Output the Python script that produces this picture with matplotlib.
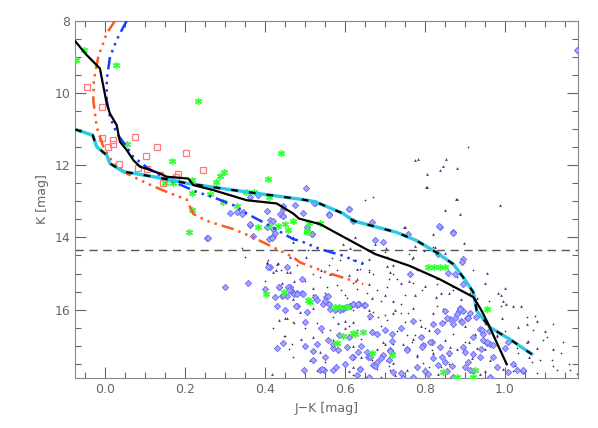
import numpy as np
import matplotlib
matplotlib.use('Agg')
import matplotlib.pyplot as plt
from matplotlib.ticker import MultipleLocator

# isochrones / sequences (J-K, K)
black_jk = [-0.0735, -0.045, -0.012, 0.005, 0.013, 0.03, 0.038, 0.055, 0.0715, 0.088, 0.113, 0.138, 0.155,
            0.209, 0.2215, 0.2715, 0.355, 0.43, 0.4715, 0.486, 0.538, 0.676, 0.763, 0.838, 0.9215, 0.9425,
            0.959, 0.98, 1.005]
black_k = [8.57, 8.95, 9.32, 10.29, 10.57, 10.89, 11.35, 11.58, 11.86, 12.04, 12.13, 12.23, 12.32,
           12.37, 12.55, 12.69, 12.97, 13.06, 13.34, 13.48, 13.63, 14.46, 14.79, 15.16, 15.65, 16.03,
           16.4, 16.91, 17.51]

cyan_jk = [-0.0735, -0.03, -0.02, 0.005, 0.013, 0.0465, 0.0965, 0.1465, 0.205, 0.3215, 0.488, 0.526,
           0.5965, 0.6215, 0.73, 0.78, 0.83, 0.8715, 0.90, 0.9215, 0.93, 0.963, 1.013, 1.0675]
cyan_k = [11.01, 11.17, 11.49, 11.72, 11.95, 12.18, 12.27, 12.37, 12.5, 12.69, 12.94, 13.01,
          13.34, 13.54, 13.86, 14.09, 14.42, 14.74, 15.16, 15.52, 16.03, 16.49, 16.82, 17.23]

blue_jk = [0.055, 0.03, 0.0133, 0.005, 0.005, 0.0133, 0.03, 0.055, 0.0715, 0.11, 0.16, 0.23, 0.27, 0.32,
           0.355, 0.405, 0.4715, 0.488, 0.538, 0.597, 0.6465]
blue_k = [8.0, 8.53, 9.0, 9.64, 10.2, 10.66, 11.12, 11.49, 11.77, 12.1, 12.4, 12.74, 12.88, 13.1,
          13.34, 13.63, 14.05, 14.09, 14.32, 14.51, 14.74]

orange_jk = [0.026, 0.005, -0.016, -0.027, -0.0285, -0.02, -0.0035, 0.0215, 0.055, 0.105, 0.155, 0.205,
             0.2215, 0.255, 0.3215, 0.3715, 0.43, 0.4715, 0.488, 0.555, 0.6465]
orange_k = [8.0, 8.35, 9.0, 9.64, 10.2, 10.94, 11.49, 11.95, 12.23, 12.5, 12.74, 12.95,
            13.35, 13.54, 13.77, 14.0, 14.32, 14.55, 14.69, 14.97, 15.29]

k_limit = 14.35

# open squares
sq_jk = [-0.044, -0.007, -0.007, 0.022, 0.022, 0.009, 0.0765, 0.1315, 0.103, 0.203, 0.035, 0.2465,
         0.084, 0.105, 0.138, 0.184, 0.178, 0.1465]
sq_k = [9.83, 10.38, 11.26, 11.31, 11.40, 11.49, 11.21, 11.49, 11.74, 11.66, 11.97, 12.12,
        12.09, 12.11, 12.27, 12.25, 12.34, 12.48]

# green asterisks
gr_jk = [-0.072, -0.052, 0.028, 0.234, 0.44, 0.057, 0.169, 0.298, 0.288, 0.2775, 0.218, 0.151, 0.1715,
         0.2175, 0.263, 0.2965, 0.33, 0.353, 0.374, 0.409, 0.4115, 0.2175, 0.2115, 0.384, 0.4115, 0.434,
         0.45, 0.459, 0.47, 0.403, 0.449, 0.5065, 0.5115, 0.538, 0.505, 0.808, 0.823, 0.838, 0.85,
         0.955, 0.513, 0.509, 0.576, 0.605, 0.626, 0.6465, 0.5965, 0.58, 0.6675, 0.7175, 0.8465,
         0.88, 0.926, 0.9215, 0.62, 0.585]
gr_k = [9.09, 8.81, 9.23, 10.22, 11.67, 11.4, 11.88, 12.19, 12.30, 12.46, 12.41, 12.49, 12.5,
        12.76, 12.8, 13.01, 13.13, 12.75, 12.75, 12.38, 12.88, 13.24, 13.86, 13.72, 13.68, 13.68,
        13.63, 13.8, 13.54, 15.57, 15.5, 13.84, 13.61, 13.6, 13.82, 14.83, 14.83, 14.83, 14.81,
        15.99, 15.78, 15.74, 15.92, 15.92, 16.66, 16.62, 16.73, 16.92, 17.21, 17.26, 17.72,
        17.86, 17.66, 17.86, 16.64, 15.93]

# diamonds
di_jk = [1.18, 0.503, 0.526, 0.611, 0.495, 0.561, 0.476, 0.313, 0.33, 0.384, 0.363, 0.405, 0.4465,
         0.363, 0.413, 0.42, 0.4465, 0.438, 0.345, 0.363, 0.405, 0.4115, 0.42, 0.4255, 0.445,
         0.5175, 0.523, 0.6115, 0.5615, 0.62, 0.6675, 0.676, 0.6965, 0.413, 0.455, 0.4925,
         0.255, 0.259, 0.30, 0.359, 0.3715, 0.3425, 0.40, 0.426, 0.409, 0.436, 0.444, 0.4565, 0.463,
         0.4715, 0.48, 0.48, 0.445, 0.4215, 0.4175, 0.4465, 0.4365, 0.4465, 0.459, 0.465, 0.473,
         0.4815, 0.4925, 0.526, 0.505, 0.5465, 0.553, 0.559, 0.563, 0.576, 0.588, 0.5965, 0.603,
         0.613, 0.6215, 0.63, 0.648, 0.6675, 0.68, 0.70, 0.7175, 0.50, 0.53, 0.559, 0.5825, 0.605,
         0.6215, 0.634, 0.655, 0.659, 0.6965, 0.713, 0.7175, 0.538, 0.549, 0.57, 0.578, 0.498,
         0.638, 0.6715, 0.7215, 0.478, 0.505, 0.5175, 0.838, 0.8715, 0.834, 0.895, 0.8925, 0.876,
         0.8965, 0.888, 0.8865, 0.8965, 0.88, 0.905, 0.863, 0.8715, 0.938, 0.9465, 0.955, 0.963,
         0.9215, 0.938, 0.98, 1.0215, 1.0465, 0.80, 0.809, 0.855, 0.8675, 0.9215, 0.4965, 0.551,
         0.561, 0.5925, 0.613, 0.6215, 0.6365, 0.5715, 0.663, 0.676, 0.713, 0.755, 0.7175, 0.5425,
         0.7465, 0.888, 0.913, 0.876, 0.8425, 0.909, 0.9425, 0.9465, 0.9565, 1.009, 0.755, 0.7965,
         0.8175, 0.838, 0.90, 0.909, 0.851, 0.834, 0.913, 1.009, 0.7715, 0.963, 1.0465, 0.759,
         0.8365, 0.87, 0.859, 0.763, 0.89, 0.52, 0.43, 0.53,
         0.634, 0.651, 0.663, 0.6175, 0.638, 0.7925, 0.813, 0.8425, 0.928, 0.855, 0.8925,
         0.585, 0.61, 0.57, 0.64, 0.69, 0.71, 0.68, 0.52, 0.55, 0.6, 0.63, 0.66, 0.74, 0.78,
         0.82, 0.86, 0.79, 0.83, 0.85, 0.82, 0.77, 0.74, 0.92, 0.94, 0.97, 1.0, 0.96, 0.9, 0.87,
         0.46, 0.43, 0.5, 0.45, 0.54, 0.9715, 0.8965, 1.03]
di_k = [8.81, 12.64, 13.06, 13.22, 13.32, 13.34, 13.1, 13.32, 13.29, 12.83, 12.89, 13.26, 13.2,
        13.66, 13.52, 13.54, 13.13, 13.34, 13.29, 13.63, 13.71, 14.03, 13.96, 13.89, 13.41,
        13.91, 13.04, 13.22, 13.38, 13.54, 13.57, 14.06, 14.12, 14.83, 14.81, 15.14,
        14.02, 14.02, 15.37, 15.27, 13.96, 13.35, 15.43, 15.66, 14.81, 15.38, 15.63, 15.63, 15.37,
        15.54, 15.54, 15.89, 16.93, 13.77, 14.02, 13.4, 15.38, 15.6, 15.38, 15.46, 15.57,
        15.57, 15.55, 15.65, 16.06, 15.83, 15.65, 15.63, 15.97, 16.01, 16.01, 15.97, 15.92,
        15.9, 15.85, 15.88, 15.88, 16.62, 16.66, 16.57, 16.66, 17.01, 16.94, 16.83, 17.12, 17.03,
        17.31, 17.17, 17.17, 17.31, 17.26, 17.12, 17.2, 17.66, 17.66, 17.68, 17.6, 17.68,
        17.63, 17.54, 17.72, 15.9, 13.72, 13.91, 13.71, 13.86, 14.46, 14.6, 14.69, 15.02,
        15.29, 15.94, 16.03, 16.03, 16.13, 16.22, 16.26, 16.4, 16.54, 16.68, 16.91, 16.96,
        17.23, 17.32, 17.6, 17.51, 17.7, 17.7, 17.79, 17.7, 17.56, 17.7, 15.57, 15.77,
        15.85, 15.94, 15.9, 15.85, 15.85, 17.05, 17.32, 17.56, 17.14, 17.09, 16.86, 17.65,
        17.88, 15.97, 16.1, 16.24, 16.38, 16.24, 16.57, 16.85, 16.89, 16.89, 17.12, 16.98,
        16.89, 17.03, 17.17, 17.45, 17.45, 17.54, 17.68, 17.72, 17.86, 17.86, 17.68, 13.91,
        13.69, 13.87, 14.98, 15.02, 16.3, 17.4, 17.05, 15.72,
        15.83, 15.88, 16.18, 17.31, 17.63, 17.03, 16.89, 17.31, 16.2, 16.24, 16.33,
        16.7, 16.75, 16.95, 17.0, 17.35, 17.38, 17.45, 17.15, 17.3, 17.5, 17.8, 17.85, 17.75, 17.6,
        17.35, 17.2, 16.75, 16.6, 16.05, 16.4, 16.3, 16.5, 16.75, 17.1, 17.3, 17.05, 16.6, 17.6, 17.85,
        15.45, 15.9, 16.35, 16.0, 16.5, 16.98, 17.03, 17.68]

# small triangles
tr_jk = [0.776, 0.782, 0.853, 0.845, 0.838, 0.881, 0.805, 0.805, 0.879, 0.8515, 0.988, 0.803, 0.88,
         0.888, 0.748, 0.8215, 0.898, 0.776, 0.851, 0.955, 0.403, 0.47, 0.4715, 0.595, 0.613,
         0.676, 0.703, 0.405, 0.434, 0.429, 0.463, 0.503, 0.54, 0.563, 0.63, 0.705, 0.626, 0.6425,
         0.63, 0.4925, 0.4425, 0.4365, 0.455, 0.488, 0.584, 0.6215, 0.6675, 0.70, 0.7265, 0.6965,
         0.705, 0.7215, 0.726, 0.513, 0.538, 0.6215, 0.4175, 0.405, 0.43, 0.4215, 0.455, 0.463,
         0.45, 0.473, 0.8615, 0.984, 0.99, 1.003, 0.9965, 0.93, 0.9925, 1.034, 1.055, 1.055,
         0.926, 0.828, 0.776, 0.8215, 0.8115, 0.795, 0.7715, 0.7465, 0.863, 0.93, 0.9175, 0.963,
         0.9965, 1.026, 1.08, 0.8215, 0.755, 0.834, 0.938, 0.75, 0.826, 0.7715, 1.0215, 1.059,
         0.83, 0.705, 0.713, 0.56, 0.62, 0.66, 0.74, 0.87, 0.91, 0.68, 0.6, 0.52, 0.79, 0.86,
         0.65, 0.72, 0.95, 0.9,
         0.47, 0.52, 0.61, 0.66, 0.72, 0.76, 0.8, 0.84, 0.89, 0.95, 1.0, 1.04, 1.08, 1.1, 1.06,
         1.12, 0.98, 0.9, 0.85, 0.78, 0.7, 0.64, 0.58, 0.52, 0.49, 0.6, 0.66, 0.72, 0.77, 0.8,
         0.88, 0.95, 0.61]
tr_k = [11.86, 11.84, 11.84, 12.02, 12.12, 12.07, 12.23, 12.61, 12.94, 13.24, 13.1, 12.6, 12.94,
        13.34, 13.72, 13.91, 14.15, 14.24, 14.44, 14.98, 13.24, 14.0, 14.12, 14.17, 14.3,
        14.17, 14.28, 14.72, 14.72, 14.89, 14.95, 14.55, 14.89, 15.0, 14.86, 14.79, 13.98, 14.68,
        15.14, 15.11, 15.26, 16.29, 16.22, 16.06, 16.38, 16.34, 15.69, 15.6, 16.01, 16.89,
        17.4, 17.49, 17.81, 17.4, 17.17, 17.59, 17.77, 14.69, 14.74, 14.97, 14.97, 14.55,
        16.24, 15.2, 15.53, 15.53, 15.6, 15.85, 15.76, 15.69, 16.24, 16.48, 16.4, 16.89,
        16.66, 15.65, 15.6, 16.1, 16.57, 16.73, 16.8, 16.94, 17.03, 17.07, 17.35, 17.4,
        17.63, 17.54, 17.07, 17.21, 17.68, 17.77, 17.77, 13.72, 14.26, 14.54, 15.89, 16.86,
        15.11, 14.55, 14.97, 16.8, 17.0, 15.3, 15.25, 15.35, 16.9, 17.1, 16.5, 15.95, 16.45, 17.25,
        17.85, 16.1, 17.1, 17.2,
        15.7, 15.4, 15.05, 14.6, 14.75, 15.2, 15.35, 15.55, 15.7, 15.25, 15.4, 15.9, 16.3, 16.6,
        17.3, 17.1, 16.7, 16.45, 16.85, 17.25, 16.95, 17.3, 17.55, 16.75, 16.8, 16.3, 16.0,
        15.75, 15.95, 16.95, 17.1, 17.7, 17.7]

# black dots
dt_jk = [0.909, 0.6515, 0.671, 0.8215, 0.798, 0.7675, 0.3425, 0.35, 0.4675, 0.509, 0.5675, 0.588,
         0.6215, 0.409, 0.48, 0.58, 0.638, 0.538, 0.5925, 0.7215, 0.473, 0.53, 0.555, 0.58, 0.63,
         0.655, 0.68, 0.705, 0.605, 0.651, 0.6715, 0.684, 0.705, 0.563, 0.5425, 0.63, 0.45, 0.4675,
         0.6675, 0.68, 0.713, 0.576, 0.4715, 0.448, 0.759, 0.751, 0.7925, 0.755, 0.776, 0.7675,
         0.8175, 0.7965, 0.8715, 0.913, 1.055, 1.076, 1.0965, 1.1465, 1.088, 1.1175, 1.13, 1.1635,
         1.18, 1.034, 1.0675, 0.8465, 0.788, 1.105, 0.52, 0.6, 0.69, 0.74, 0.61, 0.7, 0.73, 0.64,
         0.57, 0.5, 0.66, 0.75, 0.78, 0.86, 0.72, 0.62, 0.55, 0.69, 0.81, 0.77, 0.98, 1.03, 1.12,
         0.66, 0.59, 0.71, 0.83,
         0.5, 0.55, 0.62, 0.67, 0.73, 0.78, 0.83, 0.87, 0.62, 0.69, 0.74, 0.8, 0.85, 0.9, 0.95,
         1.0, 1.02, 1.08, 1.14, 1.16, 0.47, 0.53, 0.57, 0.64, 0.71, 0.77, 0.84, 0.88, 0.92, 0.96,
         0.76, 0.7, 0.66, 0.56, 0.52, 0.44, 0.4, 0.42, 0.46, 0.99, 1.07, 1.12, 0.94]
dt_k = [11.5, 12.95, 12.89, 14.26, 14.37, 14.61, 14.28, 14.54, 14.35, 14.35, 14.58, 14.63,
        14.63, 14.63, 14.77, 14.91, 14.86, 15.09, 15.09, 15.0, 16.37, 16.37, 15.37, 15.32, 15.44,
        15.55, 15.46, 15.37, 15.69, 15.83, 16.06, 16.2, 16.29, 16.57, 16.62, 16.57, 16.73, 16.94,
        17.4, 17.63, 17.68, 16.06, 16.35, 16.73, 16.1, 15.6, 15.46, 16.71, 16.71, 16.89,
        17.12, 17.49, 16.66, 15.55, 16.2, 16.18, 16.85, 16.89, 17.4, 17.4, 17.68, 17.68,
        17.77, 17.21, 17.45, 15.97, 16.29, 16.77, 15.6, 15.6, 15.75, 15.85, 16.45, 16.15, 16.6, 17.0,
        16.85, 16.5, 16.25, 16.35, 17.3, 17.5, 16.95, 17.8, 17.45, 17.85, 17.6, 15.25, 16.75, 17.05,
        17.55, 14.95, 15.45, 15.15, 15.9,
        15.2, 15.55, 15.25, 15.0, 15.15, 14.9, 15.3, 15.45, 16.0, 16.45, 16.1, 16.5, 16.35, 16.9, 16.4,
        16.6, 17.7, 17.75, 17.2, 17.5, 17.3, 17.7, 16.2, 16.8, 17.55, 17.85, 17.6, 15.1, 14.9, 15.75,
        14.45, 14.4, 14.9, 14.75, 15.0, 14.9, 15.2, 16.5, 17.1, 15.9, 16.55, 16.4, 16.05]

fig = plt.figure(figsize=(5.98, 4.28), dpi=100)
ax = fig.add_axes([0.1259, 0.1161, 0.8402, 0.8355])

grey = '#666666'
ax.plot(dt_jk, dt_k, 'o', ms=1.2, color='#333333', mew=0, zorder=2)
ax.plot(tr_jk, tr_k, '^', ms=2.0, color='#5c2a82', mew=0, zorder=2)
ax.plot(di_jk, di_k, 'D', ms=3.2, mfc='#a4a4ff', mec='#6868f2', mew=0.6, zorder=3)
ax.plot(gr_jk, gr_k, marker=(6, 2, 0), ls='none', ms=5, color='#33ff33', mew=1.0, zorder=3)
ax.plot(sq_jk, sq_k, 's', ms=4.8, mfc='none', mec='#ff7a7a', mew=0.9, zorder=3)

ax.axhline(k_limit, color='#555555', lw=1, ls=(0, (6, 4)), zorder=1)
ax.plot(orange_jk, orange_k, color='#ff5a1e', lw=1.8, ls=(0, (5, 2, 1, 2, 1, 2, 1, 2)), zorder=4)
ax.plot(blue_jk, blue_k, color='#1a3cff', lw=1.8, ls=(0, (5, 2, 1, 2, 1, 2, 1, 2)), zorder=4)
ax.plot(cyan_jk, cyan_k, color='#2cc8e6', lw=2.4, zorder=5)
ax.plot(cyan_jk, cyan_k, color='black', lw=1.6, ls=(0, (3, 5)), zorder=6)
ax.plot(black_jk, black_k, color='black', lw=1.6, zorder=6)

ax.set_xlim(-0.0735, 1.1825)
ax.set_ylim(17.9, 8.0)
ax.xaxis.set_major_locator(MultipleLocator(0.2))
ax.xaxis.set_minor_locator(MultipleLocator(0.05))
ax.yaxis.set_major_locator(MultipleLocator(2))
ax.yaxis.set_minor_locator(MultipleLocator(0.5))
ax.tick_params(which='both', direction='in', top=True, right=True, colors=grey, labelsize=9,
               labelcolor=grey)
ax.tick_params(which='major', length=8, width=0.8)
ax.tick_params(which='minor', length=4, width=0.8)
for s in ax.spines.values():
    s.set_color('#888888')
ax.set_xlabel('J\u2212K [mag]', color=grey, fontsize=9)
ax.set_ylabel('K [mag]', color=grey, fontsize=9)

fig.savefig('out.png', dpi=100)
